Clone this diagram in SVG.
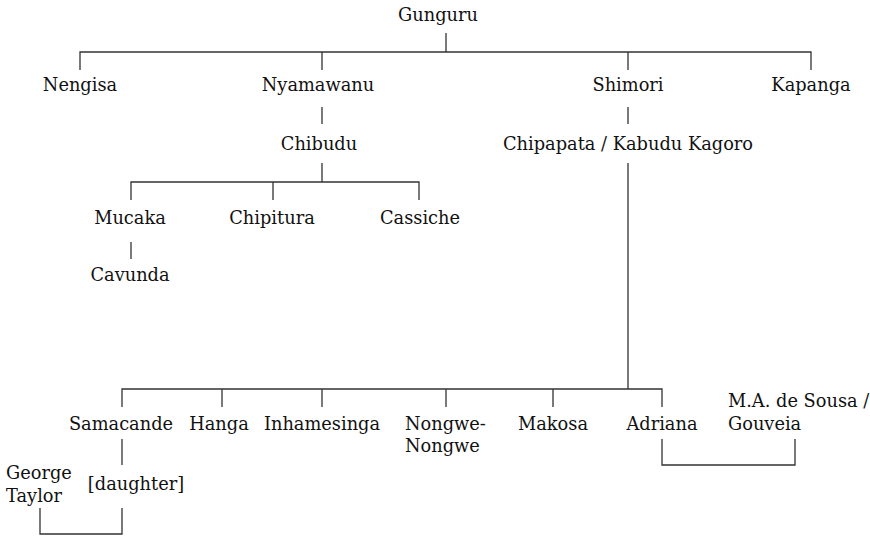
<svg xmlns="http://www.w3.org/2000/svg" width="870" height="539" viewBox="0 0 870 539">
  <style>
    .bg { fill: #ffffff; }
    .name { font-family: "DejaVu Serif", "Liberation Serif", serif; font-size: 17.8px; fill: #111111; }
    .c { text-anchor: middle; }
    .link { fill: none; stroke: #333333; stroke-width: 1.3; }
  </style>
  <rect class="bg" width="870" height="539"/>

  <!-- lineage connectors -->
  <g id="connectors">
    <path class="link" d="M446 33 V52 M80 70 V52 H811 V70 M322 52 V70 M628 52 V70"/>
    <path class="link" d="M322 107 V124 M628 107 V124"/>
    <path class="link" d="M322 163 V182 M131 200 V182 H419 V200 M273 182 V200"/>
    <path class="link" d="M131 242 V259"/>
    <path class="link" d="M628 163 V389 M122 407 V389 H662 V407 M222 389 V407 M322 389 V407 M446 389 V407 M553 389 V407"/>
    <path class="link" d="M122 439 V465"/>
    <path class="link" d="M40 508 V534 H122 V508"/>
    <path class="link" d="M662 439 V465 H795 V439"/>
  </g>

  <g id="gunguru"><text class="name c" x="438" y="21">Gunguru</text></g>
  <g id="nengisa"><text class="name c" x="80" y="91">Nengisa</text></g>
  <g id="nyamawanu"><text class="name c" x="318" y="91">Nyamawanu</text></g>
  <g id="shimori"><text class="name c" x="628" y="91">Shimori</text></g>
  <g id="kapanga"><text class="name c" x="811" y="91">Kapanga</text></g>
  <g id="chibudu"><text class="name c" x="319" y="150">Chibudu</text></g>
  <g id="chipapata"><text class="name c" x="628" y="150">Chipapata / Kabudu Kagoro</text></g>
  <g id="mucaka"><text class="name c" x="130" y="224">Mucaka</text></g>
  <g id="chipitura"><text class="name c" x="272" y="224">Chipitura</text></g>
  <g id="cassiche"><text class="name c" x="420" y="224">Cassiche</text></g>
  <g id="cavunda"><text class="name c" x="130" y="281">Cavunda</text></g>
  <g id="samacande"><text class="name c" x="121" y="430">Samacande</text></g>
  <g id="hanga"><text class="name c" x="219" y="430">Hanga</text></g>
  <g id="inhamesinga"><text class="name c" x="322" y="430">Inhamesinga</text></g>
  <g id="nongwe"><text class="name" x="405" y="430">Nongwe-</text><text class="name" x="405" y="452">Nongwe</text></g>
  <g id="makosa"><text class="name c" x="553" y="430">Makosa</text></g>
  <g id="adriana"><text class="name c" x="662" y="430">Adriana</text></g>
  <g id="sousa"><text class="name" x="728" y="407">M.A. de Sousa /</text><text class="name" x="728" y="430">Gouveia</text></g>
  <g id="daughter"><text class="name c" x="136" y="490">[daughter]</text></g>
  <g id="taylor"><text class="name" x="6" y="479">George</text><text class="name" x="6" y="502">Taylor</text></g>
</svg>
